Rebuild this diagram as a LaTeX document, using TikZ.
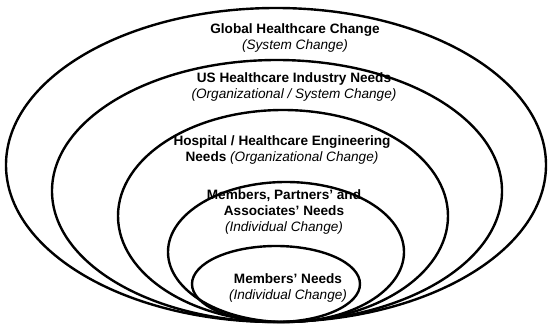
\documentclass[tikz,border=0pt]{standalone}
\usepackage{fontspec}
\setmainfont{Liberation Sans}
\usetikzlibrary{shapes.geometric}
\tikzset{
  ring/.style={ellipse, draw=black, line width=2.4pt, inner sep=0pt, outer sep=0pt},
  lbl/.style={align=center, inner sep=0pt, font=\fontsize{13.6}{16}\selectfont, text=black}
}
\begin{document}
\begin{tikzpicture}[x=1pt, y=-1pt]
\useasboundingbox[fill=white] (0,0) rectangle (549,326);
% nested ellipses, all meeting at the bottom
\node[ring, minimum width=540pt, minimum height=314pt] (global) at (276,165) {};
\node[ring, minimum width=450pt, minimum height=262pt] (us) at (277,191) {};
\node[ring, minimum width=330pt, minimum height=212pt] (hosp) at (283,216) {};
\node[ring, minimum width=236pt, minimum height=140pt] (mpa) at (286,252) {};
\node[ring, minimum width=168pt, minimum height=76pt] (mem) at (276,284) {};
% labels
\node[lbl] (tglobal) at (295,38) {\textbf{Global Healthcare Change}\\\textit{(System Change)}};
\node[lbl] (tus) at (294,87) {\textbf{US Healthcare Industry Needs}\\\textit{(Organizational / System Change)}};
\node[lbl] (thosp) at (282,150) {\textbf{Hospital / Healthcare Engineering}\\\textbf{Needs} \textit{(Organizational Change)}};
\node[lbl] (tmpa) at (284,212) {\textbf{Members, Partners' and}\\\textbf{Associates' Needs}\\\textit{(Individual Change)}};
\node[lbl] (tmem) at (288,288) {\textbf{Members' Needs}\\\textit{(Individual Change)}};
\end{tikzpicture}
\end{document}
